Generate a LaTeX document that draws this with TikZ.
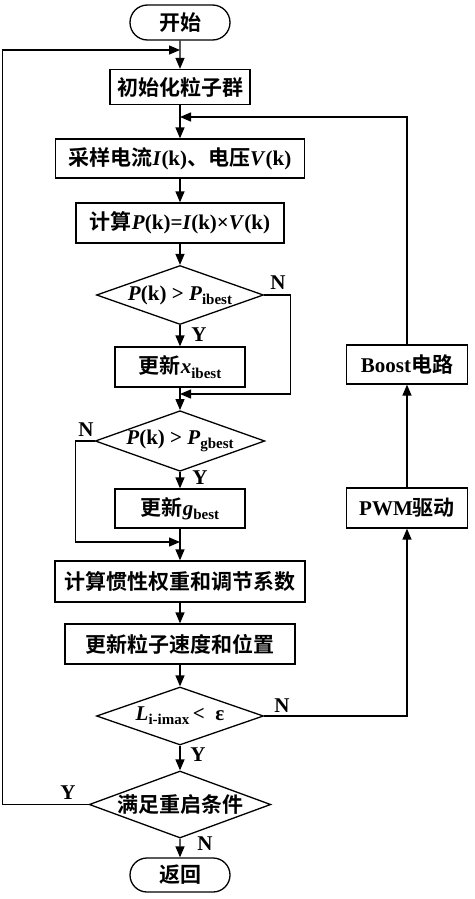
\documentclass[tikz,border=0pt]{standalone}
\usepackage{fontspec}
\setmainfont{Liberation Serif}
\newfontfamily\cjk{Noto Sans CJK SC}[BoldFont={Noto Sans CJK SC Bold}]
\usetikzlibrary{shapes.geometric,shapes.misc,arrows.meta}
\newcommand\lsub[1]{\raisebox{-0.45ex}{\fontsize{15}{15}\selectfont #1}}
\begin{document}
\begin{tikzpicture}[x=1pt,y=-1pt,
  font=\fontsize{21}{24}\selectfont\bfseries,
  line width=1.3pt,
  >={Triangle[length=11pt,width=9pt]},
  box/.style={draw, rectangle, inner sep=0pt},
  term/.style={draw, rounded rectangle, inner sep=0pt},
  dia/.style={draw, diamond, aspect=2.8, inner sep=0pt},
  lab/.style={inner sep=0pt}]
\useasboundingbox (0,0) rectangle (474,899);

\node[term, minimum width=100pt, minimum height=35pt] (start) at (180,22.5) {{\cjk 开始}};
\node[box, minimum width=140pt, minimum height=35pt] (init) at (180,87) {{\cjk 初始化粒子群}};
\node[box, minimum width=249pt, minimum height=39pt] (sample) at (180,158.5) {{\cjk 采样电流}\textit{I}(k){\cjk 、电压}\textit{V}(k)};
\node[box, minimum width=208pt, minimum height=40pt] (calcP) at (180,223) {{\cjk 计算}\textit{P}(k)=\textit{I}(k)×\textit{V}(k)};
\node[dia, minimum width=167pt, minimum height=59pt] (d1) at (180,295) {\textit{P}(k) > \textit{P}\lsub{ibest}};
\node[box, minimum width=130pt, minimum height=40pt] (updx) at (180,367) {{\cjk 更新}\textit{x}\lsub{ibest}};
\node[dia, minimum width=167pt, minimum height=58pt] (d2) at (180,441) {\textit{P}(k) > \textit{P}\lsub{gbest}};
\node[box, minimum width=130pt, minimum height=39pt] (updg) at (180,508.5) {{\cjk 更新}\textit{g}\lsub{best}};
\node[box, minimum width=250pt, minimum height=41pt] (inertia) at (180,581.5) {{\cjk 计算惯性权重和调节系数}};
\node[box, minimum width=230pt, minimum height=40pt] (updv) at (180,644) {{\cjk 更新粒子速度和位置}};
\node[dia, minimum width=167pt, minimum height=58pt] (d3) at (180,716) {\textit{L}\lsub{i-imax}\,<\ \ ε};
\node[dia, minimum width=176pt, minimum height=67pt] (d4) at (180,804.5) {{\cjk 满足重启条件}};
\node[term, minimum width=100pt, minimum height=34pt] (ret) at (180,875) {{\cjk 返回}};
\node[box, minimum width=121pt, minimum height=39pt] (boost) at (407,364.5) {Boost{\cjk 电路}};
\node[box, minimum width=121pt, minimum height=40pt] (pwm) at (407,508) {PWM{\cjk 驱动}};

\coordinate (j0) at (180,50);
\coordinate (j3) at (180,117);
\coordinate (j1) at (180,394);
\coordinate (j2) at (180,542);

\draw[->] (start) -- (init);
\draw[->] (init) -- (sample);
\draw[->] (sample) -- (calcP);
\draw[->] (calcP) -- (d1);
\draw[->] (d1) -- (updx);
\draw[->] (updx) -- (d2);
\draw[->] (d2) -- (updg);
\draw[->] (updg) -- (inertia);
\draw[->] (inertia) -- (updv);
\draw[->] (updv) -- (d3);
\draw[->] (d3) -- (d4);
\draw[->] (d4) -- (ret);

\draw[->] (d1.east) -- ++(26,0) |- (j1);
\draw[->] (d2.west) -- ++(-19,0) |- (j2);
\draw[->] (d4.west) -- ++(-86,0) |- (j0);
\draw[->] (d3.east) -| (pwm.south);
\draw[->] (pwm) -- (boost);
\draw[->] (boost.north) |- (j3);

\node[lab] (n1) at (278,283) {N};
\node[lab] (y1) at (199,335) {Y};
\node[lab] (n2) at (86,430) {N};
\node[lab] (y2) at (200,478) {Y};
\node[lab] (n3) at (282,706) {N};
\node[lab] (y3) at (198,755) {Y};
\node[lab] (y4) at (68,793) {Y};
\node[lab] (n4) at (205,844) {N};
\end{tikzpicture}
\end{document}
